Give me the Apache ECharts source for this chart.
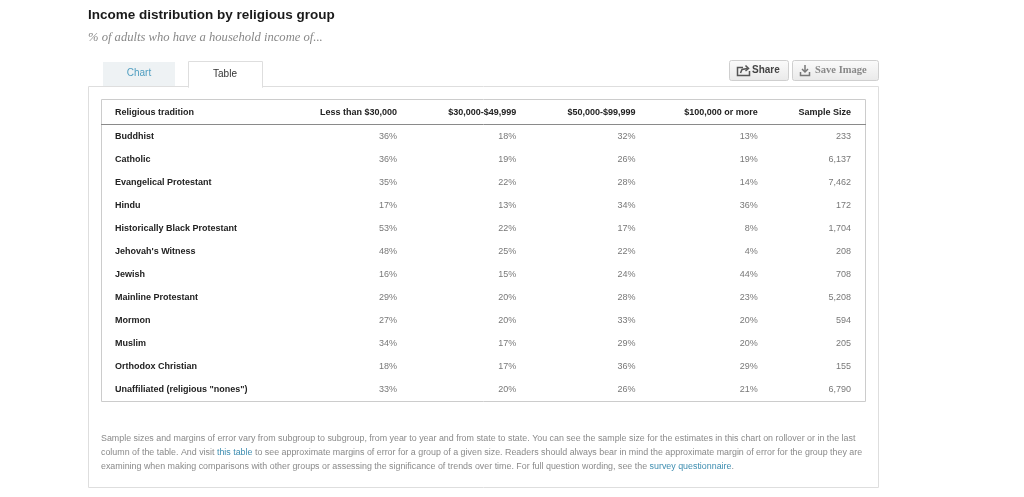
<!DOCTYPE html>
<html>
<head>
<meta charset="utf-8">
<script src="https://cdn.jsdelivr.net/npm/echarts@6/dist/echarts.min.js"></script>
<style>
  html, body { margin: 0; padding: 0; background: #fff; }
  #main { width: 1024px; height: 497px; }
</style>
</head>
<body>
<div id="main"></div>
<script>
// data
var groups = ['Buddhist', 'Catholic', 'Evangelical Protestant', 'Hindu', 'Historically Black Protestant',
  "Jehovah's Witness", 'Jewish', 'Mainline Protestant', 'Mormon', 'Muslim', 'Orthodox Christian',
  'Unaffiliated (religious "nones")'];
var columns = ['Less than $30,000', '$30,000-$49,999', '$50,000-$99,999', '$100,000 or more', 'Sample Size'];
var lessThan30k = [36, 36, 35, 17, 53, 48, 16, 29, 27, 34, 18, 33];
var from30kTo50k = [18, 19, 22, 13, 22, 25, 15, 20, 20, 17, 17, 20];
var from50kTo100k = [32, 26, 28, 34, 17, 22, 24, 28, 33, 29, 36, 26];
var over100k = [13, 19, 14, 36, 8, 4, 44, 23, 20, 20, 29, 21];
var sampleSize = [233, 6137, 7462, 172, 1704, 208, 708, 5208, 594, 205, 155, 6790];

var colValues = [lessThan30k, from30kTo50k, from50kTo100k, over100k, sampleSize];
// small nudges so the right edges line up like the original table
var colNudge = [0, -1, -2, 0, -27];

var FONT = '"Liberation Sans", Arial, sans-serif';

var series = colValues.map(function(vals, c) {
    return {
        name: columns[c],
        type: 'scatter',
        symbolSize: 1,
        itemStyle: { color: 'rgba(0,0,0,0)' },
        data: vals.map(function(v, i) { return [columns[c], groups[i], v]; }),
        label: {
            show: true,
            position: 'inside',
            align: 'right',
            verticalAlign: 'middle',
            offset: [colNudge[c], 0],
            color: '#555',
            fontFamily: FONT,
            fontSize: 9,
            formatter: function(p) {
                return c === 4 ? p.value[2].toLocaleString('en-US') : p.value[2] + '%';
            }
        }
    };
});

var headRich = {};
colNudge.forEach(function(n, i) {
    headRich['h' + i] = { padding: [0, -n, 0, 0], fontFamily: FONT, fontSize: 9, fontWeight: 'bold', color: '#222' };
});

var note1 = 'Sample sizes and margins of error vary from subgroup to subgroup, from year to year and from state to state. You can see the sample size for the estimates in this chart on rollover or in the last';
var note2 = ['column of the table. And visit ', 'this table', ' to see approximate margins of error for a group of a given size. Readers should always bear in mind the approximate margin of error for the group they are'];
var note3 = ['examining when making comparisons with other groups or assessing the significance of trends over time. For full question wording, see the ', 'survey questionnaire', '.'];

var noteRich = {
    t: { fontFamily: FONT, fontSize: 8.9, fill: '#8a8a8a' },
    l: { fontFamily: FONT, fontSize: 8.9, fill: '#3d8db0' }
};

var btnFill = { type: 'linear', x: 0, y: 0, x2: 0, y2: 1, colorStops: [{ offset: 0, color: '#fbfbfb' }, { offset: 1, color: '#e9e9e9' }] };

var chart = echarts.init(document.getElementById('main'));
chart.setOption({
    animation: false,
    grid: { left: 337, right: 86, top: 125, bottom: 96 },
    xAxis: {
        type: 'category',
        position: 'top',
        data: columns,
        axisLine: { show: false },
        axisTick: { show: false },
        splitLine: { show: false },
        axisLabel: {
            margin: 8,
            align: 'right',
            interval: 0,
            formatter: function(v, i) { return '{h' + i + '|' + v + '}'; },
            rich: headRich
        }
    },
    yAxis: {
        type: 'category',
        inverse: true,
        data: groups,
        axisLine: { show: false },
        axisTick: { show: false },
        splitLine: { show: false },
        axisLabel: {
            margin: 222,
            align: 'left',
            interval: 0,
            color: '#222',
            fontFamily: FONT,
            fontSize: 9,
            fontWeight: 'bold'
        }
    },
    series: series,
    graphic: [
        // title + subtitle
        { type: 'text', x: 88, y: 15, style: { text: 'Income distribution by religious group', fontFamily: FONT, fontWeight: 'bold', fontSize: 13.5, fill: '#1a1a1a', verticalAlign: 'middle' } },
        { type: 'text', x: 88, y: 38, style: { text: '% of adults who have a household income of...', fontFamily: '"Liberation Serif", serif', fontStyle: 'italic', fontSize: 12.6, fill: '#888', verticalAlign: 'middle' } },
        // panel
        { type: 'rect', shape: { x: 88.5, y: 86.5, width: 790, height: 401 }, style: { fill: '#fff', stroke: '#dedede', lineWidth: 1 }, z: -10 },
        // tabs
        { type: 'rect', shape: { x: 103, y: 62, width: 72, height: 24 }, style: { fill: '#eef2f4' }, z: -5 },
        { type: 'text', x: 139, y: 73, style: { text: 'Chart', fontFamily: FONT, fontSize: 10, fill: '#4f9ec0', align: 'center', verticalAlign: 'middle' } },
        { type: 'rect', shape: { x: 188.5, y: 61.5, width: 74, height: 26 }, style: { fill: '#fff', stroke: '#dedede', lineWidth: 1 }, z: -5 },
        { type: 'rect', shape: { x: 189, y: 85, width: 73, height: 4 }, style: { fill: '#fff' }, z: -4 },
        { type: 'text', x: 225, y: 74, style: { text: 'Table', fontFamily: FONT, fontSize: 10, fill: '#333', align: 'center', verticalAlign: 'middle' } },
        // buttons
        { type: 'rect', shape: { x: 729.5, y: 60.5, width: 59, height: 20, r: 2 }, style: { fill: btnFill, stroke: '#cfcfcf', lineWidth: 1 } },
        { type: 'polyline', shape: { points: [[743, 67.5], [737.5, 67.5], [737.5, 75.5], [749.5, 75.5], [749.5, 71]] }, style: { fill: null, stroke: '#555', lineWidth: 1.5 } },
        { type: 'polyline', shape: { points: [[740.5, 73], [742, 69.5], [747.5, 68.5]] }, style: { fill: null, stroke: '#555', lineWidth: 1.5 } },
        { type: 'polyline', shape: { points: [[745.5, 65.5], [748.5, 68.5], [745.5, 71]] }, style: { fill: null, stroke: '#555', lineWidth: 1.5 } },
        { type: 'text', x: 752, y: 70.5, style: { text: 'Share', fontFamily: FONT, fontSize: 10, fontWeight: 'bold', fill: '#444', verticalAlign: 'middle' } },
        { type: 'rect', shape: { x: 792.5, y: 60.5, width: 86, height: 20, r: 2 }, style: { fill: btnFill, stroke: '#cfcfcf', lineWidth: 1 } },
        { type: 'line', shape: { x1: 805, y1: 65, x2: 805, y2: 71.5 }, style: { stroke: '#777', lineWidth: 1.5 } },
        { type: 'polyline', shape: { points: [[802, 69], [805, 72], [808, 69]] }, style: { fill: null, stroke: '#777', lineWidth: 1.5 } },
        { type: 'polyline', shape: { points: [[800.5, 72], [800.5, 75.5], [809.5, 75.5], [809.5, 72]] }, style: { fill: null, stroke: '#777', lineWidth: 1.5 } },
        { type: 'text', x: 815, y: 70.5, style: { text: 'Save Image', fontFamily: '"Liberation Serif", serif', fontSize: 10.5, fontWeight: 'bold', fill: '#888', verticalAlign: 'middle' } },
        // table frame and header rule
        { type: 'rect', shape: { x: 101.5, y: 99.5, width: 764, height: 302 }, style: { fill: null, stroke: '#cccccc', lineWidth: 1 } },
        { type: 'line', shape: { x1: 101, y1: 124.5, x2: 866, y2: 124.5 }, style: { stroke: '#8a8a8a', lineWidth: 1 } },
        { type: 'text', x: 115, y: 113, style: { text: 'Religious tradition', fontFamily: FONT, fontSize: 9, fontWeight: 'bold', fill: '#222', verticalAlign: 'middle' } },
        // footnote
        { type: 'text', x: 101, y: 439, style: { text: '{t|' + note1 + '}', rich: noteRich, verticalAlign: 'middle' } },
        { type: 'text', x: 101, y: 453, style: { text: '{t|' + note2[0] + '}{l|' + note2[1] + '}{t|' + note2[2] + '}', rich: noteRich, verticalAlign: 'middle' } },
        { type: 'text', x: 101, y: 467, style: { text: '{t|' + note3[0] + '}{l|' + note3[1] + '}{t|' + note3[2] + '}', rich: noteRich, verticalAlign: 'middle' } }
    ]
});
</script>
</body>
</html>
